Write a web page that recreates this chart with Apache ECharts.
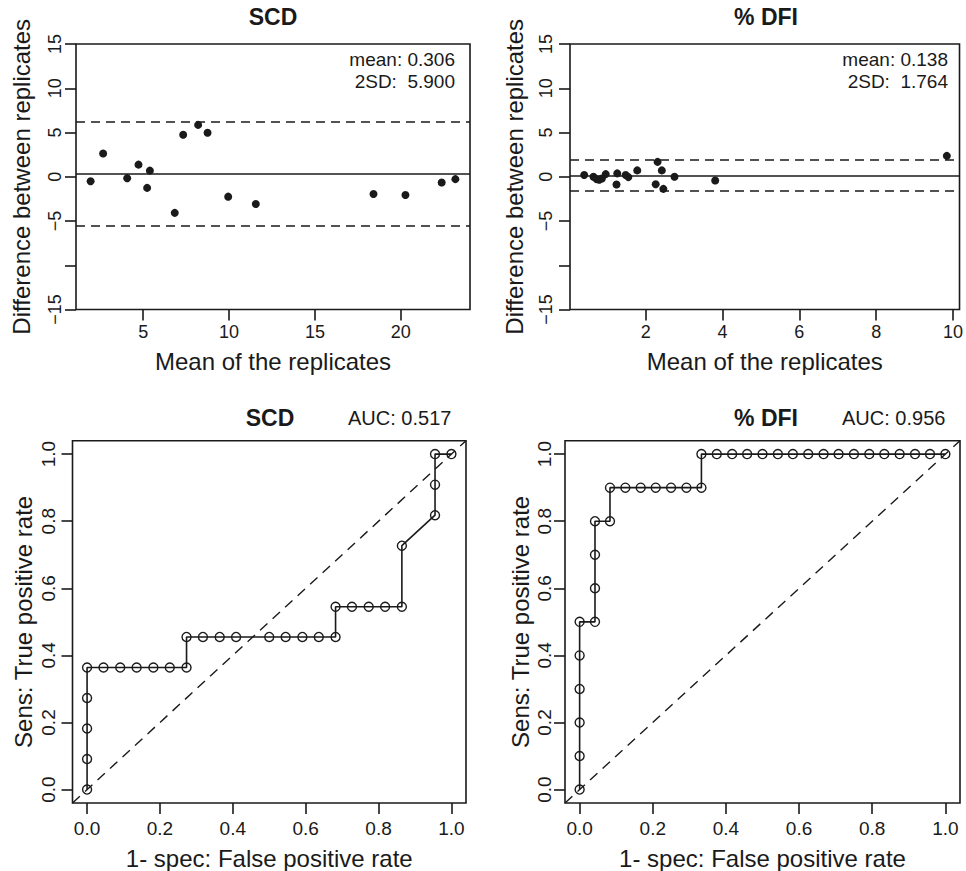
<!DOCTYPE html>
<html>
<head>
<meta charset="utf-8">
<script src="https://cdn.jsdelivr.net/npm/echarts@6/dist/echarts.min.js"></script>
<style>
html,body{margin:0;padding:0;background:#fff;}
#chart{width:966px;height:871px;}
</style>
</head>
<body>
<div id="chart"></div>
<script>
// ---- Data ----
var scdMean = [1.94, 2.67, 4.07, 4.73, 5.23, 5.39, 6.84, 7.33, 8.20, 8.75, 9.95, 11.56, 18.41, 20.27, 22.38, 23.18];
var scdDiff = [-0.50, 2.63, -0.16, 1.37, -1.26, 0.69, -4.08, 4.75, 5.86, 4.98, -2.25, -3.08, -1.94, -2.06, -0.65, -0.27];
var scdStats = [0.306, 5.900]; // mean, 2SD

var dfiMean = [0.40, 0.64, 0.72, 0.79, 0.86, 0.96, 1.24, 1.26, 1.48, 1.55, 1.78, 2.26, 2.31, 2.42, 2.46, 2.75, 3.81, 9.84];
var dfiDiff = [0.19, 0.00, -0.27, -0.34, -0.19, 0.30, -0.87, 0.38, 0.19, -0.04, 0.72, -0.84, 1.68, 0.72, -1.37, 0.00, -0.42, 2.36];
var dfiStats = [0.138, 1.764];

var scdFpr = [0,0,0,0,0, 0.045,0.091,0.136,0.182,0.227,0.273, 0.273,0.318,0.364,0.409, 0.5,0.545,0.591,0.636,0.682, 0.682,0.727,0.773,0.818,0.864, 0.864, 0.955,0.955,0.955, 1];
var scdTpr = [0,0.091,0.182,0.273,0.364, 0.364,0.364,0.364,0.364,0.364,0.364, 0.455,0.455,0.455,0.455, 0.455,0.455,0.455,0.455,0.455, 0.545,0.545,0.545,0.545,0.545, 0.727, 0.818,0.909,1, 1];
var scdAuc = 0.517;

var dfiFpr = [0,0,0,0,0,0, 0.042,0.042,0.042,0.042, 0.083,0.083, 0.125,0.167,0.208,0.25,0.292,0.333, 0.333,0.375,0.417,0.458,0.5,0.542,0.583,0.625,0.667,0.708,0.75,0.792,0.833,0.875,0.917,0.958,1];
var dfiTpr = [0,0.1,0.2,0.3,0.4,0.5, 0.5,0.6,0.7,0.8, 0.8,0.9, 0.9,0.9,0.9,0.9,0.9,0.9, 1,1,1,1,1,1,1,1,1,1,1,1,1,1,1,1,1];
var dfiAuc = 0.956;

var baTicksX1 = [5, 10, 15, 20];
var baTicksX2 = [2, 4, 6, 8, 10];
var baLabelsY = [-15, -5, 0, 5, 10, 15];
var rocTicks = [0, 0.2, 0.4, 0.6, 0.8, 1.0];

var titles = ['SCD', '% DFI'];

// ---- Style ----
var INK = '#1a1a1a';
var FONT = '"Liberation Sans", Arial, Helvetica, sans-serif';

function zip(a, b) { return a.map(function (v, i) { return [v, b[i]]; }); }
function minusFmt(v) { return v < 0 ? '\u2212' + (-v) : String(v); }

var grids = [
  {left: 76, top: 44, width: 394, height: 265.5},
  {left: 570, top: 44, width: 391.5, height: 265.5},
  {left: 72.5, top: 440.7, width: 393.5, height: 363.6},
  {left: 565, top: 440.7, width: 395, height: 363.6}
];
grids.forEach(function (g) {
  g.show = true; g.borderColor = INK; g.borderWidth = 1.6; g.backgroundColor = 'transparent';
});

function xAxisDef(idx, min, max, ticks, fmt, labelSize, margin, name, gap) {
  return {
    type: 'value', gridIndex: idx, min: min, max: max, position: 'bottom',
    splitLine: {show: false},
    axisLine: {show: false, onZero: false},
    axisTick: {show: true, inside: false, length: 11, customValues: ticks, lineStyle: {color: INK, width: 1.6}},
    axisLabel: {customValues: ticks, formatter: fmt, color: INK, fontFamily: FONT, fontSize: labelSize, margin: margin},
    name: name, nameLocation: 'middle', nameGap: gap,
    nameTextStyle: {color: INK, fontFamily: FONT, fontSize: 24}
  };
}
function yAxisDef(idx, min, max, ticks, labelTicks, fmt, labelSize, margin, name, gap) {
  return {
    type: 'value', gridIndex: idx, min: min, max: max, position: 'left',
    splitLine: {show: false},
    axisLine: {show: false, onZero: false},
    axisTick: {show: true, inside: false, length: 11, customValues: ticks, lineStyle: {color: INK, width: 1.6}},
    axisLabel: {customValues: labelTicks, formatter: fmt, rotate: 90, color: INK, fontFamily: FONT, fontSize: labelSize, margin: margin},
    name: name, nameLocation: 'middle', nameGap: gap,
    nameTextStyle: {color: INK, fontFamily: FONT, fontSize: 24}
  };
}

var rocFmt = function (v) { return v.toFixed(1); };
var baYTicks = [-15, -10, -5, 0, 5, 10, 15];

var xAxes = [
  xAxisDef(0, 1.09, 24.03, baTicksX1, minusFmt, 18, 13, 'Mean of the replicates', 40),
  xAxisDef(1, 0.03, 10.17, baTicksX2, minusFmt, 18, 13, 'Mean of the replicates', 40),
  xAxisDef(2, -0.04, 1.04, rocTicks, rocFmt, 19, 16, '1- spec: False positive rate', 43),
  xAxisDef(3, -0.04, 1.04, rocTicks, rocFmt, 19, 16, '1- spec: False positive rate', 43)
];
var yAxes = [
  yAxisDef(0, -15, 15, baYTicks, baLabelsY, minusFmt, 18, 12, 'Difference between replicates', 43),
  yAxisDef(1, -15, 15, baYTicks, baLabelsY, minusFmt, 18, 15, 'Difference between replicates', 44),
  yAxisDef(2, -0.04, 1.04, rocTicks, rocTicks, rocFmt, 19, 15, 'Sens: True positive rate', 37),
  yAxisDef(3, -0.04, 1.04, rocTicks, rocTicks, rocFmt, 19, 11, 'Sens: True positive rate', 33)
];

function baSeries(idx, xs, ys, stats) {
  var m = stats[0], sd2 = stats[1];
  return {
    type: 'scatter', xAxisIndex: idx, yAxisIndex: idx,
    data: zip(xs, ys), symbol: 'circle', symbolSize: 8,
    itemStyle: {color: INK, opacity: 1}, silent: true,
    markLine: {
      silent: true, symbol: ['none', 'none'], label: {show: false},
      data: [
        {yAxis: m, lineStyle: {type: 'solid', color: INK, width: 1.6}},
        {yAxis: m + sd2, lineStyle: {type: [9, 6], color: INK, width: 1.6}},
        {yAxis: m - sd2, lineStyle: {type: [9, 6], color: INK, width: 1.6}}
      ]
    }
  };
}
function rocSeries(idx, xs, ys) {
  return {
    type: 'line', xAxisIndex: idx, yAxisIndex: idx,
    data: zip(xs, ys), symbol: 'circle', symbolSize: 9, showAllSymbol: true,
    lineStyle: {color: INK, width: 1.6},
    itemStyle: {color: 'rgba(255,255,255,0)', borderColor: INK, borderWidth: 1.4},
    silent: true,
    markLine: {
      silent: true, symbol: ['none', 'none'], label: {show: false},
      lineStyle: {type: [10, 7], color: INK, width: 1.4},
      data: [[{coord: [-0.04, -0.04]}, {coord: [1.04, 1.04]}]]
    }
  };
}

function txt(x, y, s, size, weight, align) {
  return {type: 'text', x: x, y: y, silent: true,
    style: {text: s, fill: INK, font: (weight || 'normal') + ' ' + size + 'px ' + FONT,
      textAlign: align || 'center', textVerticalAlign: 'middle'}};
}

var graphics = [
  txt(273, 17, titles[0], 23, 'bold'),
  txt(766, 17, titles[1], 23, 'bold'),
  txt(455, 59, 'mean: ' + scdStats[0].toFixed(3), 19, 'normal', 'right'),
  txt(455, 81, '2SD:\u00a0 ' + scdStats[1].toFixed(3), 19, 'normal', 'right'),
  txt(948, 59, 'mean: ' + dfiStats[0].toFixed(3), 19, 'normal', 'right'),
  txt(948, 81, '2SD:\u00a0 ' + dfiStats[1].toFixed(3), 19, 'normal', 'right'),
  txt(270, 418, titles[0], 23, 'bold'),
  txt(348, 418, 'AUC: ' + scdAuc.toFixed(3), 20, 'normal', 'left'),
  txt(766, 418, titles[1], 23, 'bold'),
  txt(842, 418, 'AUC: ' + dfiAuc.toFixed(3), 20, 'normal', 'left')
];

var chart = echarts.init(document.getElementById('chart'), null, {renderer: 'svg'});
chart.setOption({
  animation: false,
  backgroundColor: '#fff',
  grid: grids,
  xAxis: xAxes,
  yAxis: yAxes,
  series: [
    baSeries(0, scdMean, scdDiff, scdStats),
    baSeries(1, dfiMean, dfiDiff, dfiStats),
    rocSeries(2, scdFpr, scdTpr),
    rocSeries(3, dfiFpr, dfiTpr)
  ],
  graphic: graphics
});
</script>
</body>
</html>
